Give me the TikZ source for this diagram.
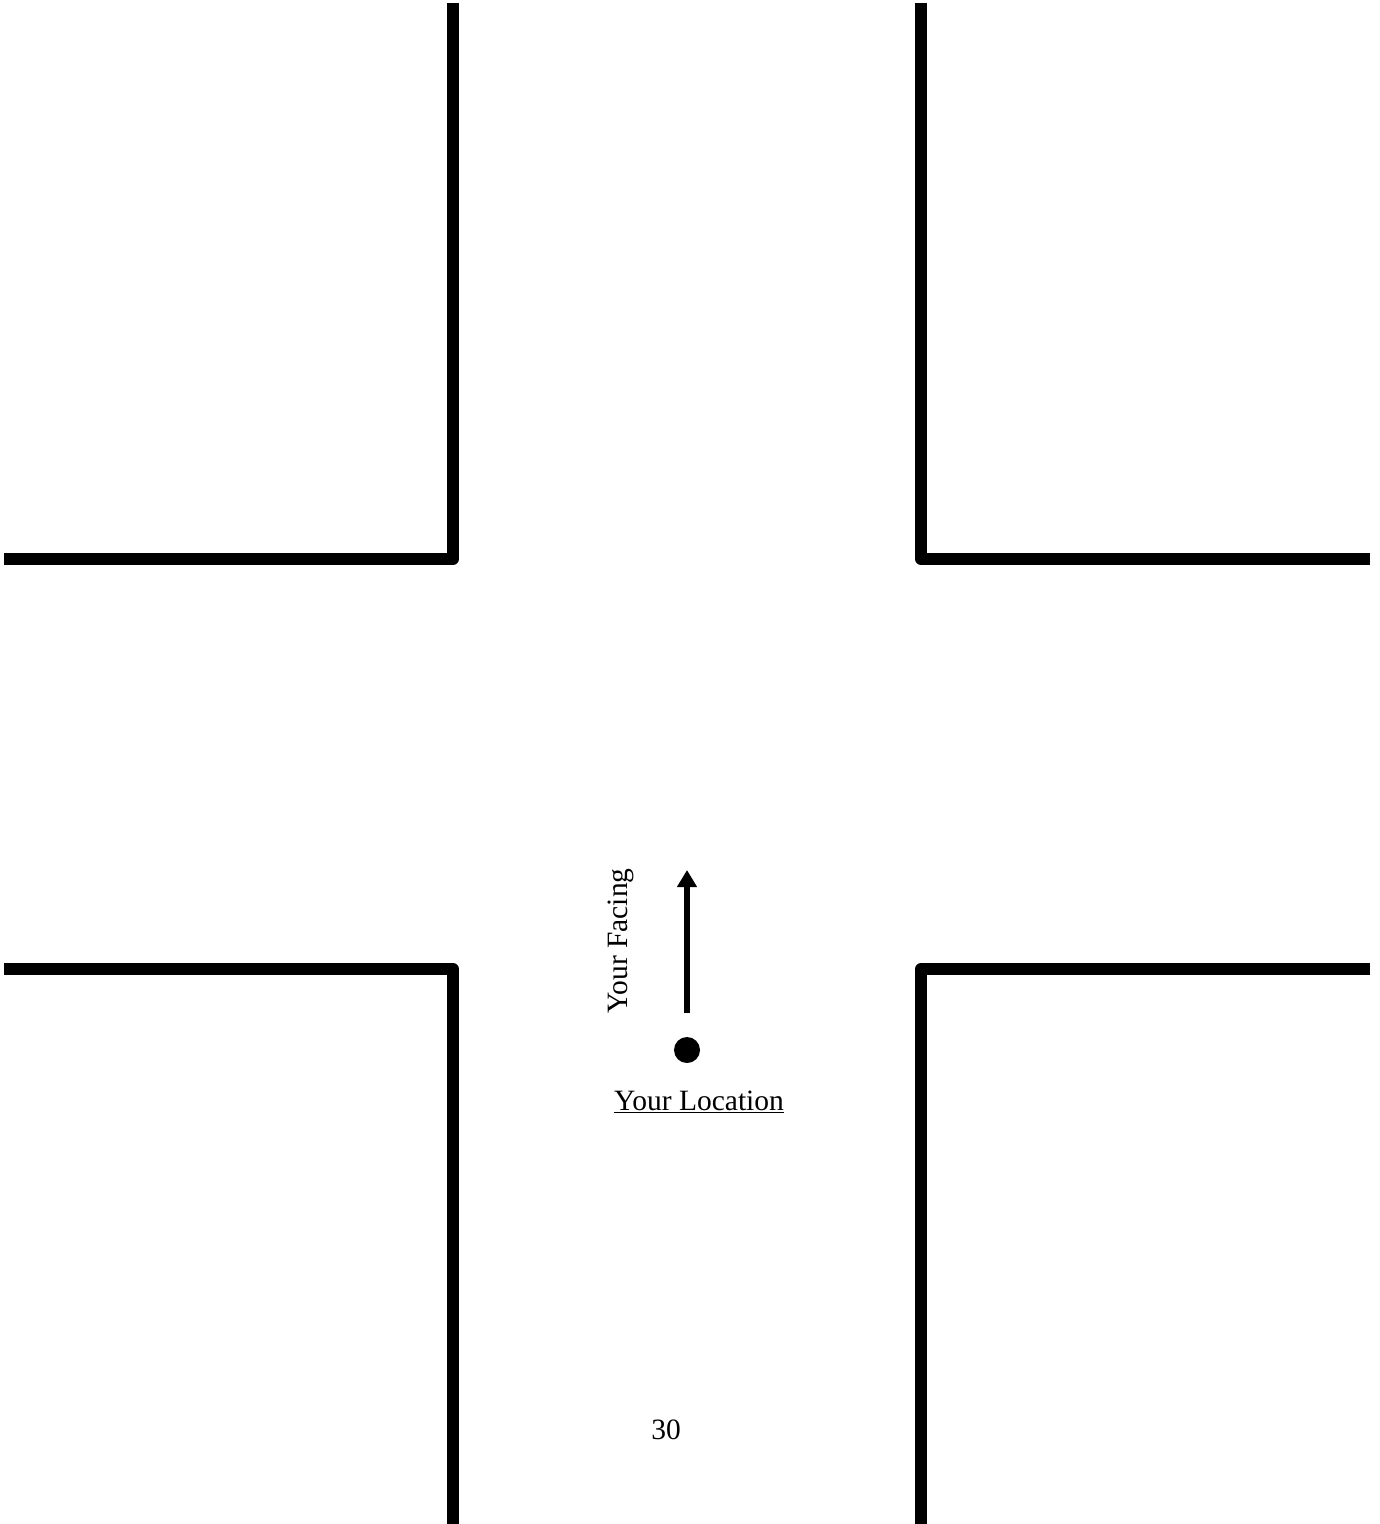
\documentclass[tikz,border=0pt]{standalone}
\usepackage{fontspec}
\setmainfont{Liberation Serif}
\usetikzlibrary{arrows.meta}
\begin{document}
\begin{tikzpicture}[x=1pt,y=-1pt,
  wall/.style={line width=12pt,line join=round},
  lbl/.style={font=\fontsize{29.5}{33}\selectfont,inner sep=0pt,anchor=base}]
\useasboundingbox (0,0) rectangle (1380,1524);
% walls
\draw[wall] (453,3) -- (453,559) -- (4,559);
\draw[wall] (921,3) -- (921,559) -- (1370,559);
\draw[wall] (4,969) -- (453,969) -- (453,1524);
\draw[wall] (1370,969) -- (921,969) -- (921,1524);
% location
\node[circle,fill=black,inner sep=0pt,minimum size=26pt] (loc) at (687,1050) {};
\coordinate (astart) at (687,1013);
\coordinate (aend) at (687,870);
\draw[line width=6pt,-{Triangle[length=17pt,width=19pt]}] (astart) -- (aend);
\node[lbl,rotate=90] (facing) at (627,941) {Your Facing};
\node[lbl] (loclbl) at (699,1110) {\underline{Your Location}};
\node[lbl] (num) at (666,1439) {30};
\end{tikzpicture}
\end{document}
